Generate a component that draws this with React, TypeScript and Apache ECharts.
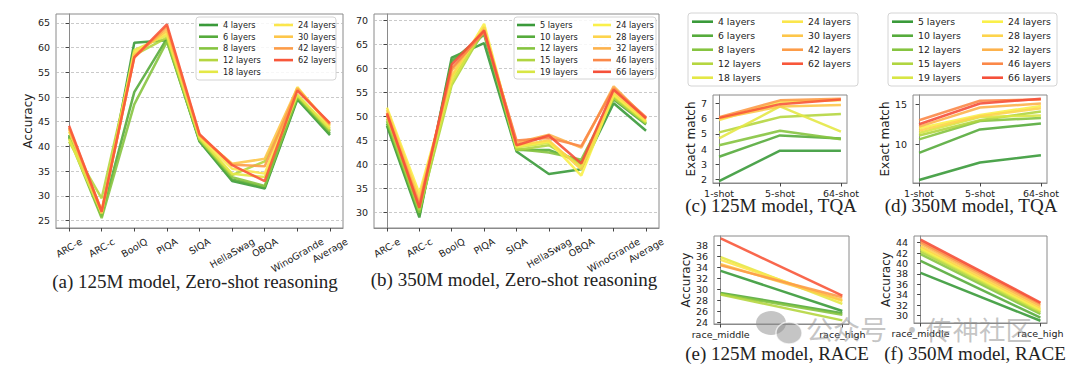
import React, { useEffect, useRef } from "react";
import * as echarts from "echarts";

// ---------------- DATA ----------------
const zeroShotCategories = ["ARC-e", "ARC-c", "BoolQ", "PIQA", "SIQA", "HellaSwag", "OBQA", "WinoGrande", "Average"];
const tqaCategories = ["1-shot", "5-shot", "64-shot"];
const raceCategories = ["race_middle", "race_high"];

const layers125 = ["4 layers", "6 layers", "8 layers", "12 layers", "18 layers", "24 layers", "30 layers", "42 layers", "62 layers"];
const layers350 = ["5 layers", "10 layers", "12 layers", "15 layers", "19 layers", "24 layers", "28 layers", "32 layers", "46 layers", "66 layers"];

const colors125 = ["#3a9a3a", "#56ab3c", "#86c440", "#b5d640", "#e4e846", "#fbe64c", "#fdc64a", "#fd9c48", "#f8573a"];
const colors350 = ["#3a9a3a", "#56ab3c", "#86c440", "#b0d540", "#d8e644", "#faf04a", "#fdd44c", "#fdb24c", "#fb8848", "#f5503a"];

// one row per layer count, columns follow zeroShotCategories
const zeroShot125 = [
  [42.3, 25.8, 61.0, 61.5, 41.0, 33.0, 31.5, 49.5, 42.3],
  [42.0, 26.0, 51.0, 61.8, 41.2, 33.3, 31.8, 49.8, 42.6],
  [41.8, 25.5, 48.5, 61.2, 41.3, 33.8, 32.0, 50.0, 43.0],
  [41.0, 29.5, 58.5, 62.0, 41.5, 34.2, 37.0, 50.3, 43.3],
  [41.5, 26.5, 59.5, 62.5, 41.8, 34.5, 33.8, 50.5, 43.6],
  [43.0, 27.0, 59.0, 63.0, 42.0, 35.5, 34.5, 52.0, 44.0],
  [43.5, 26.5, 58.5, 63.5, 42.2, 36.5, 37.5, 51.8, 44.3],
  [43.8, 27.0, 58.0, 64.2, 42.3, 36.3, 36.0, 51.6, 44.5],
  [44.2, 26.8, 58.0, 64.7, 42.5, 36.2, 33.0, 51.3, 44.7],
];
const zeroShot350 = [
  [48.0, 29.0, 62.2, 65.2, 42.7, 38.0, 39.0, 52.7, 47.0],
  [48.5, 29.5, 61.5, 67.0, 43.0, 43.0, 40.5, 53.5, 48.3],
  [49.0, 30.0, 58.0, 67.5, 43.2, 42.5, 41.0, 54.0, 48.5],
  [49.5, 30.5, 56.5, 68.0, 43.0, 44.0, 40.0, 53.8, 48.6],
  [50.0, 32.0, 57.0, 68.5, 43.5, 44.5, 39.5, 54.3, 48.8],
  [51.8, 34.0, 58.0, 69.2, 43.8, 44.8, 37.7, 54.5, 49.0],
  [51.3, 33.0, 58.5, 68.5, 44.0, 45.0, 39.0, 55.0, 49.3],
  [50.8, 32.0, 59.5, 68.0, 44.5, 46.2, 43.5, 56.2, 49.5],
  [50.3, 31.5, 60.0, 67.5, 45.0, 45.5, 43.8, 55.8, 49.8],
  [50.6, 31.0, 60.8, 67.8, 44.0, 46.0, 40.2, 55.5, 49.6],
];
const tqa125 = [
  [1.9, 3.9, 3.9],
  [3.5, 4.9, 4.7],
  [4.25, 5.2, 4.65],
  [5.1, 6.1, 6.3],
  [4.7, 6.8, 5.15],
  [5.9, 7.1, 7.2],
  [6.0, 6.8, 6.9],
  [6.1, 7.2, 7.3],
  [6.05, 6.95, 7.25],
];
const tqa350 = [
  [5.5, 7.7, 8.6],
  [8.9, 11.85, 12.6],
  [10.6, 12.9, 13.3],
  [11.1, 13.0, 14.1],
  [11.4, 13.4, 13.6],
  [12.0, 13.65, 14.8],
  [11.7, 13.5, 14.5],
  [12.2, 14.6, 15.1],
  [13.0, 15.45, 15.6],
  [12.5, 15.1, 15.7],
];
const race125 = [
  [33.3, 26.0],
  [29.3, 25.6],
  [29.1, 25.3],
  [29.0, 24.3],
  [35.8, 27.3],
  [35.3, 27.8],
  [34.5, 28.0],
  [34.3, 28.5],
  [39.2, 28.8],
];
const race350 = [
  [38.2, 29.0],
  [40.5, 29.6],
  [41.8, 30.3],
  [42.3, 30.6],
  [42.7, 30.9],
  [43.0, 31.2],
  [43.3, 31.5],
  [43.8, 31.9],
  [44.2, 32.3],
  [44.6, 32.5],
];

const yTicksZs125 = [25, 30, 35, 40, 45, 50, 55, 60, 65];
const yTicksZs350 = [30, 35, 40, 45, 50, 55, 60, 65, 70];
const yTicksTqa125 = [2, 3, 4, 5, 6, 7];
const yTicksTqa350 = [10, 15];
const yTicksRace125 = [24, 26, 28, 30, 32, 34, 36, 38];
const yTicksRace350 = [30, 32, 34, 36, 38, 40, 42, 44];

// ---------------- STYLE ----------------
const SANS = '"DejaVu Sans", sans-serif';
const SERIF = '"Liberation Serif", "Times New Roman", serif';
const FRAME = "#8a8a8a";
const TEXT = "#222";

function textWidth(t: string, size: number, family: string) {
  const ctx = document.createElement("canvas").getContext("2d");
  if (!ctx) return t.length * size * 0.6;
  ctx.font = `${size}px ${family}`;
  return ctx.measureText(t).width;
}

type Spec = {
  left: number; top: number; width: number; height: number;
  xMin: number; xMax: number; cats: string[];
  yMin: number; yMax: number; yTicks: number[];
  yName?: string; yNameGap?: number;
  rotate?: boolean; grid?: boolean;
  names: string[]; colors: string[]; rows: number[][];
};

function buildPanels(specs: Spec[]) {
  const grid: any[] = [], xAxis: any[] = [], yAxis: any[] = [], series: any[] = [];
  specs.forEach((s, gi) => {
    grid.push({ left: s.left, top: s.top, width: s.width, height: s.height, show: true, borderColor: FRAME, borderWidth: 1, backgroundColor: "#fff" });
    const xt = s.cats.map((_, i) => i);
    const fs = 9.5;
    let axisLabel: any;
    if (s.rotate) {
      const rich: any = {};
      s.cats.forEach((c, i) => {
        const d = textWidth(c, fs, SANS) / 4;
        rich["r" + i] = { fontSize: fs, fontFamily: SANS, color: TEXT, padding: [1.732 * d, d, 0, 0] };
      });
      axisLabel = {
        customValues: xt, rotate: 30, align: "center", verticalAlign: "middle", margin: 12.5,
        formatter: (v: number) => `{r${Math.round(v)}|${s.cats[Math.round(v)]}}`, rich,
        fontSize: fs, fontFamily: SANS, color: TEXT,
      };
    } else {
      axisLabel = { customValues: xt, formatter: (v: number) => s.cats[Math.round(v)], fontSize: fs, fontFamily: SANS, color: TEXT, margin: 5 };
    }
    xAxis.push({
      type: "value", gridIndex: gi, min: s.xMin, max: s.xMax,
      axisLine: { show: true, lineStyle: { color: FRAME } },
      axisTick: { show: true, length: 3.5, customValues: xt, lineStyle: { color: "#444" } },
      axisLabel, splitLine: { show: false },
    });
    yAxis.push({
      type: "value", gridIndex: gi, min: s.yMin, max: s.yMax,
      axisLine: { show: true, lineStyle: { color: FRAME } },
      axisTick: { show: true, length: 3.5, customValues: s.yTicks, lineStyle: { color: "#444" } },
      axisLabel: { customValues: s.yTicks, fontSize: fs, fontFamily: SANS, color: TEXT, margin: 6 },
      splitLine: { show: !!s.grid, lineStyle: { type: [3, 2], color: "#bdbdbd", width: 0.8 } },
      name: s.yName || "", nameLocation: "middle", nameGap: s.yNameGap || 20,
      nameTextStyle: { fontSize: 12, fontFamily: SANS, color: TEXT },
    });
    s.rows.forEach((row, si) => {
      series.push({
        type: "line", name: s.names[si], xAxisIndex: gi, yAxisIndex: gi,
        data: row.map((v, j) => [j, v]), symbol: "none", z: 2 + si * 0.01,
        lineStyle: { width: 2.5, color: s.colors[si], opacity: 0.9 },
        itemStyle: { color: s.colors[si] },
      });
    });
  });
  return { grid, xAxis, yAxis, series };
}

function legendPair(names: string[], leftA: number, leftB: number, top: number, fs: number, row: number, iw: number) {
  const base = {
    orient: "vertical", top, padding: 0, itemWidth: iw, itemHeight: 2.6, itemGap: row - 10,
    icon: "rect", selectedMode: false, z: 10,
    textStyle: { fontSize: fs, fontFamily: SANS, color: TEXT, lineHeight: 10 },
  };
  return [
    { ...base, left: leftA, data: names.slice(0, 5) },
    { ...base, left: leftB, data: names.slice(5) },
  ];
}

function box(x: number, y: number, w: number, h: number) {
  return { type: "rect", z: 9, shape: { x, y, width: w, height: h, r: 3 }, style: { fill: "rgba(255,255,255,0.85)", stroke: "#d4d4d4", lineWidth: 1 } };
}
function caption(text: string, x: number, y: number) {
  return { type: "text", z: 10, x, y, style: { text, fontSize: 19, fontFamily: SERIF, fill: TEXT, align: "center", verticalAlign: "middle" } };
}

function optionA() {
  const p = buildPanels([{
    left: 56, top: 14, width: 287, height: 214, xMin: -0.4, xMax: 8.4, cats: zeroShotCategories,
    yMin: 23.5, yMax: 66.8, yTicks: yTicksZs125, yName: "Accuracy", yNameGap: 21, rotate: true, grid: true,
    names: layers125, colors: colors125, rows: zeroShot125,
  }]);
  return {
    animation: false, ...p,
    legend: legendPair(layers125, 199, 274, 20, 8.2, 11.7, 19),
    graphic: [box(196, 17, 140, 63), caption("(a) 125M model, Zero-shot reasoning", 195, 281)],
  };
}
function optionB() {
  const p = buildPanels([{
    left: 374, top: 14, width: 285, height: 214, xMin: -0.4, xMax: 8.4, cats: zeroShotCategories,
    yMin: 26.8, yMax: 71.25, yTicks: yTicksZs350, rotate: true, grid: true,
    names: layers350, colors: colors350, rows: zeroShot350,
  }]);
  return {
    animation: false, ...p,
    legend: legendPair(layers350, 517, 593, 20, 8.2, 11.7, 18),
    graphic: [box(514, 17, 142, 62), caption("(b) 350M model, Zero-shot reasoning", 514, 279)],
  };
}
function optionCE() {
  const p = buildPanels([
    {
      left: 713, top: 95, width: 134, height: 88, xMin: -0.1, xMax: 2.1, cats: tqaCategories,
      yMin: 1.78, yMax: 7.55, yTicks: yTicksTqa125, yName: "Exact match", yNameGap: 15,
      names: layers125, colors: colors125, rows: tqa125,
    },
    {
      left: 714, top: 236, width: 135, height: 88, xMin: -0.055, xMax: 1.055, cats: raceCategories,
      yMin: 23.64, yMax: 39.64, yTicks: yTicksRace125, yName: "Accuracy", yNameGap: 20,
      names: layers125, colors: colors125, rows: race125,
    },
  ]);
  return {
    animation: false, ...p,
    legend: legendPair(layers125, 692, 782, 16.7, 9.3, 14, 21),
    graphic: [box(688, 13, 170, 73), caption("(c) 125M model, TQA", 771, 205), caption("(e) 125M model, RACE", 777, 353)],
  };
}
function optionDF() {
  const p = buildPanels([
    {
      left: 913, top: 95, width: 134, height: 88, xMin: -0.1, xMax: 2.1, cats: tqaCategories,
      yMin: 5.13, yMax: 16.17, yTicks: yTicksTqa350, yName: "Exact match", yNameGap: 20,
      names: layers350, colors: colors350, rows: tqa350,
    },
    {
      left: 914, top: 236, width: 133, height: 87, xMin: -0.055, xMax: 1.055, cats: raceCategories,
      yMin: 28.57, yMax: 45.29, yTicks: yTicksRace350, yName: "Accuracy", yNameGap: 21,
      names: layers350, colors: colors350, rows: race350,
    },
  ]);
  const wm = "rgba(140,140,140,0.5)";
  return {
    animation: false, ...p,
    legend: legendPair(layers350, 892, 982, 16.7, 9.3, 14, 21),
    graphic: [
      box(888, 13, 169, 73),
      caption("(d) 350M model, TQA", 971, 205),
      caption("(f) 350M model, RACE", 975, 353),
      { type: "ellipse", z: 20, shape: { cx: 771, cy: 323, rx: 15, ry: 12 }, style: { fill: wm } },
      { type: "ellipse", z: 21, shape: { cx: 789, cy: 333, rx: 13, ry: 11 }, style: { fill: wm, stroke: "rgba(255,255,255,0.7)", lineWidth: 1.5 } },
      { type: "text", z: 20, x: 806, y: 328, style: { text: "公众号", fontSize: 27, fontFamily: '"Noto Sans CJK SC"', fill: wm, verticalAlign: "middle" } },
      { type: "text", z: 20, x: 912, y: 328, style: { text: "·", fontSize: 27, fontFamily: '"Noto Sans CJK SC"', fill: wm, align: "center", verticalAlign: "middle" } },
      { type: "text", z: 20, x: 926, y: 328, style: { text: "传神社区", fontSize: 26.5, fontFamily: '"Noto Sans CJK SC"', fill: wm, verticalAlign: "middle" } },
    ],
  };
}

function Layer({ make }: { make: () => any }) {
  const ref = useRef<HTMLDivElement>(null);
  useEffect(() => {
    if (!ref.current) return;
    const chart = echarts.init(ref.current, undefined, { renderer: "svg" });
    chart.setOption(make());
    return () => chart.dispose();
  }, [make]);
  return <div ref={ref} style={{ position: "absolute", left: 0, top: 0, width: 1080, height: 374 }} />;
}

export default function App() {
  useEffect(() => {
    document.body.style.margin = "0";
  }, []);
  return (
    <div style={{ position: "relative", width: 1080, height: 374, background: "#fff", overflow: "hidden" }}>
      <Layer make={optionA} />
      <Layer make={optionB} />
      <Layer make={optionCE} />
      <Layer make={optionDF} />
    </div>
  );
}
